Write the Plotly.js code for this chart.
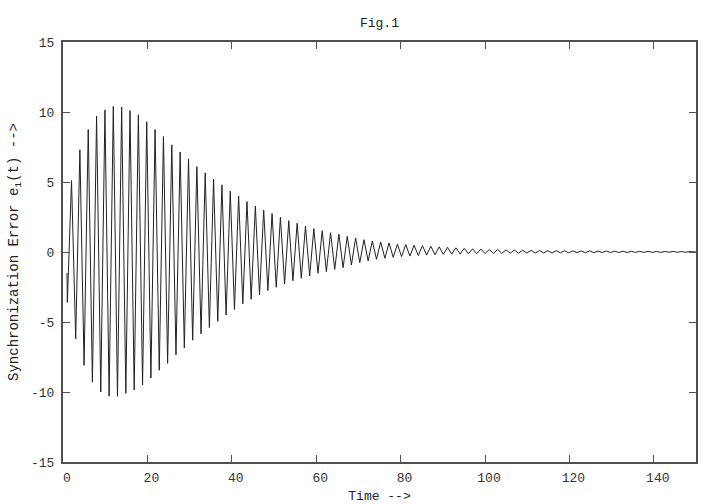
<!DOCTYPE html>
<html>
<head>
<meta charset="utf-8">
<script src="https://cdn.plot.ly/plotly-3.0.1.min.js"></script>
<style>html,body{margin:0;padding:0;background:#fff;}#chart{width:720px;height:504px;}</style>
</head>
<body>
<div id="chart"></div>
<script>
// Time instants (extrema of the oscillation)
const time = [0.95,
 1.03, 2.02, 3.01, 4.00, 4.99, 5.98, 6.97, 7.96, 8.95, 9.94,
 10.93, 11.92, 12.91, 13.90, 14.89, 15.88, 16.87, 17.86, 18.85, 19.84,
 20.83, 21.82, 22.81, 23.80, 24.79, 25.78, 26.77, 27.76, 28.75, 29.74,
 30.73, 31.72, 32.71, 33.70, 34.69, 35.68, 36.67, 37.66, 38.65, 39.64,
 40.63, 41.62, 42.61, 43.60, 44.59, 45.58, 46.57, 47.56, 48.55, 49.54,
 50.53, 51.52, 52.51, 53.50, 54.49, 55.48, 56.47, 57.46, 58.45, 59.44,
 60.43, 61.42, 62.41, 63.40, 64.39, 65.38, 66.37, 67.36, 68.35, 69.34,
 70.33, 71.32, 72.31, 73.30, 74.29, 75.28, 76.27, 77.26, 78.25, 79.24,
 80.23, 81.22, 82.21, 83.20, 84.19, 85.18, 86.17, 87.16, 88.15, 89.14,
 90.13, 91.12, 92.11, 93.10, 94.09, 95.08, 96.07, 97.06, 98.05, 99.04,
 100.03, 101.02, 102.01, 103.00, 103.99, 104.98, 105.97, 106.96, 107.95, 108.94,
 109.93, 110.92, 111.91, 112.90, 113.89, 114.88, 115.87, 116.86, 117.85, 118.84,
 119.83, 120.82, 121.81, 122.80, 123.79, 124.78, 125.77, 126.76, 127.75, 128.74,
 129.73, 130.72, 131.71, 132.70, 133.69, 134.68, 135.67, 136.66, 137.65, 138.64,
 139.63, 140.62, 141.61, 142.60, 143.59, 144.58, 145.57, 146.56, 147.55, 148.54,
 149.53, 150.0];

// Synchronization error e1(t) at those instants
const error1 = [-1.5,
 -3.6, 5.1, -6.2, 7.3, -8.1, 8.75, -9.3, 9.7, -10.0, 10.15,
 -10.3, 10.4, -10.3, 10.35, -10.1, 10.1, -9.85, 9.8, -9.5, 9.3,
 -9.0, 8.75, -8.45, 8.25, -7.95, 7.65, -7.35, 7.15, -6.85, 6.65,
 -6.3, 6.1, -5.85, 5.65, -5.4, 5.2, -4.95, 4.8, -4.5, 4.35,
 -4.1, 4.0, -3.7, 3.6, -3.38, 3.28, -3.07, 3.0, -2.76, 2.75,
 -2.52, 2.48, -2.29, 2.24, -2.05, 2.05, -1.88, 1.86, -1.71, 1.67,
 -1.52, 1.52, -1.4, 1.38, -1.24, 1.27, -1.12, 1.12, -0.93, 1.0,
 -0.76, 0.88, -0.64, 0.79, -0.52, 0.72, -0.45, 0.65, -0.38, 0.56,
 -0.33, 0.53, -0.29, 0.48, -0.25, 0.45, -0.22, 0.41, -0.2, 0.37,
 -0.17, 0.34, -0.15, 0.3, -0.14, 0.26, -0.13, 0.23, -0.12, 0.21,
 -0.11, 0.19, -0.1, 0.18, -0.1, 0.16, -0.09, 0.14, -0.09, 0.13,
 -0.08, 0.12, -0.08, 0.11, -0.07, 0.1, -0.07, 0.1, -0.06, 0.09,
 -0.06, 0.09, -0.05, 0.08, -0.05, 0.08, -0.05, 0.07, -0.04, 0.07,
 -0.04, 0.06, -0.04, 0.06, -0.04, 0.05, -0.03, 0.05, -0.03, 0.05,
 -0.03, 0.04, -0.03, 0.04, -0.02, 0.04, -0.02, 0.03, -0.02, 0.03,
 -0.02, 0.0];

const xTicks = [0, 20, 40, 60, 80, 100, 120, 140];
const yTicks = [-15, -10, -5, 0, 5, 10, 15];

const FONT = '"Liberation Mono", "DejaVu Sans Mono", monospace';
const frameColor = '#505050';

const trace = {
  x: time, y: error1, type: 'scatter', mode: 'lines',
  line: {color: '#222222', width: 1}, hoverinfo: 'x+y'
};

const axisCommon = {
  showgrid: false, zeroline: false, showline: true, mirror: 'ticks',
  linecolor: frameColor, linewidth: 2,
  ticks: 'inside', ticklen: 7, tickwidth: 1, tickcolor: frameColor,
  tickfont: {family: FONT, size: 13, color: '#333'}
};

const layout = {
  width: 720, height: 504,
  margin: {l: 63, r: 24, t: 42, b: 42},
  paper_bgcolor: '#fff', plot_bgcolor: '#fff',
  showlegend: false,
  title: {text: 'Fig.1', font: {family: FONT, size: 13, color: '#222'},
          x: 0.527, xanchor: 'center', y: 0.956, yanchor: 'middle'},
  xaxis: Object.assign({}, axisCommon, {
    range: [0, 150], tickvals: xTicks, ticktext: xTicks.map(String),
    ticklabelshift: 4, ticklabelstandoff: 2,
    title: {text: 'Time -->', font: {family: FONT, size: 13, color: '#222'}, standoff: 7}
  }),
  yaxis: Object.assign({}, axisCommon, {
    range: [-15, 15], tickvals: yTicks, ticktext: yTicks.map(String),
    ticklabelstandoff: 4,
    title: {text: 'Synchronization Error e<sub>1</sub>(t) -->', font: {family: FONT, size: 14, color: '#222'}, standoff: 9}
  })
};

Plotly.newPlot('chart', [trace], layout, {displayModeBar: false, staticPlot: true});
</script>
</body>
</html>
